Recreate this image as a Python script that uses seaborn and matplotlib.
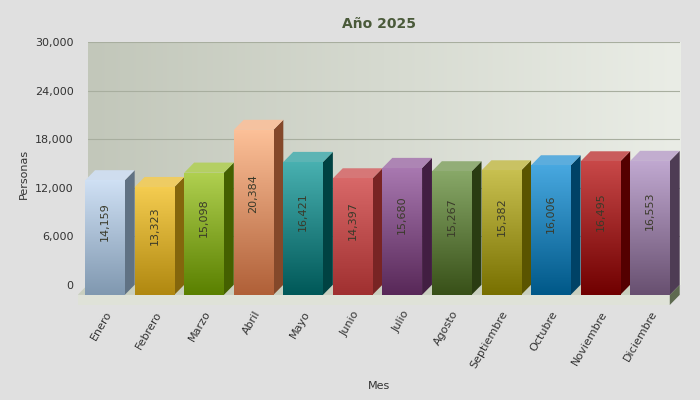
import matplotlib
matplotlib.use('Agg')
import matplotlib.pyplot as plt
import seaborn as sns
import numpy as np
import pandas as pd
from matplotlib.patches import Polygon
from matplotlib.colors import to_rgb

meses = ['Enero', 'Febrero', 'Marzo', 'Abril', 'Mayo', 'Junio', 'Julio',
         'Agosto', 'Septiembre', 'Octubre', 'Noviembre', 'Diciembre']
personas = [14159, 13323, 15098, 20384, 16421, 14397, 15680, 15267, 15382,
            16006, 16495, 16553]
top_colors = ['#cfe0f4', '#f4cc50', '#b0d050', '#fcc098', '#48b0b0', '#d86868',
              '#a878b0', '#88a868', '#c8c050', '#48a8e0', '#c84848', '#c0a8d0']
bot_colors = ['#8098b0', '#b08810', '#5a8000', '#b06038', '#005858', '#a03030',
              '#582858', '#385018', '#787000', '#005888', '#700000', '#685070']

df = pd.DataFrame({'Mes': meses, 'Personas': personas})

sns.set_style('white')
plt.rcParams['font.family'] = ['DejaVu Sans']

fig = plt.figure(figsize=(7, 4), dpi=100, facecolor='#e0e0e0')
ax = fig.add_axes([0.111, 0.2375, 0.86, 0.6575])
ax.set_facecolor('none')

DX, DY = 0.2, 1250
XL, XR = -0.55, 11.6

sns.barplot(data=df, x='Mes', y='Personas', ax=ax, width=0.8, color='white',
            edgecolor='none', zorder=3)
bars = list(ax.containers[0])

ax.set_xlim(XL, XR)
ax.set_ylim(-2500, 30000)

# back wall gradient
grad = np.linspace(0, 1, 256).reshape(1, -1)
c0, c1 = np.array(to_rgb('#c2c7ba')), np.array(to_rgb('#eaede6'))
img = c0 + (c1 - c0) * grad[..., None]
ax.imshow(img, extent=[XL + DX, XR, 0, 30000], aspect='auto', zorder=0)
for v in range(6000, 30001, 6000):
    ax.plot([XL + DX, XR], [v, v], color='#a8ae9f', lw=0.8, zorder=1)

# floor slab
ax.add_patch(Polygon([(XL + DX, 0), (XR, 0), (XR - DX, -DY), (XL, -DY)],
                     closed=True, fc='#c9cfbf', ec='none', zorder=1))
ax.add_patch(Polygon([(XL, -DY), (XR - DX, -DY), (XR - DX, -2500), (XL, -2500)],
                     closed=True, fc='#dfe2d8', ec='none', zorder=1))
ax.add_patch(Polygon([(XR - DX, -DY), (XR, 0), (XR, -1250), (XR - DX, -2500)],
                     closed=True, fc='#5e6a50', ec='none', zorder=1))

for i, (p, v) in enumerate(zip(bars, personas)):
    x0 = p.get_x(); w = p.get_width()
    p.set_y(-DY)
    tc, bc = np.array(to_rgb(top_colors[i])), np.array(to_rgb(bot_colors[i]))
    g = np.linspace(0, 1, 100).reshape(-1, 1)
    im = tc + (bc - tc) * g[..., None]
    im = np.repeat(im, 2, axis=1)
    imh = ax.imshow(im, extent=[x0, x0 + w, -DY, v - DY], aspect='auto', zorder=3.5)
    imh.set_clip_path(p)
    side = bc * 0.75
    ax.add_patch(Polygon([(x0 + w, -DY), (x0 + w + DX, 0), (x0 + w + DX, v), (x0 + w, v - DY)],
                         closed=True, fc=side, ec='none', zorder=3))
    top = np.clip(tc * 0.85 + 0.12, 0, 1)
    ax.add_patch(Polygon([(x0, v - DY), (x0 + DX, v), (x0 + w + DX, v), (x0 + w, v - DY)],
                         closed=True, fc=top, ec='none', zorder=3))
    ax.text(x0 + w / 2, v * 0.55, f'{v:,}', rotation=90, ha='center', va='center',
            fontsize=8, color='#3a3a2a', zorder=4)

ax.set_xlim(XL, XR)
ax.set_ylim(-2500, 30000)
ax.set_yticks(range(0, 30001, 6000))
ax.set_yticklabels([f'{v:,}' for v in range(0, 30001, 6000)], fontsize=8, color='#333333')
ax.set_xticks(range(12))
ax.set_xticklabels(meses, rotation=60, ha='right', rotation_mode='anchor',
                   fontsize=8, color='#333333')
ax.tick_params(length=0, pad=3)
for s in ax.spines.values():
    s.set_visible(False)
ax.set_xlabel('Mes', fontsize=8, color='#333333', labelpad=8)
ax.set_ylabel('Personas', fontsize=8, color='#333333')
ax.set_title('Año 2025', fontsize=10, fontweight='bold', color='#4a5a3a', pad=10)

fig.savefig('out.png', dpi=100, facecolor=fig.get_facecolor())
